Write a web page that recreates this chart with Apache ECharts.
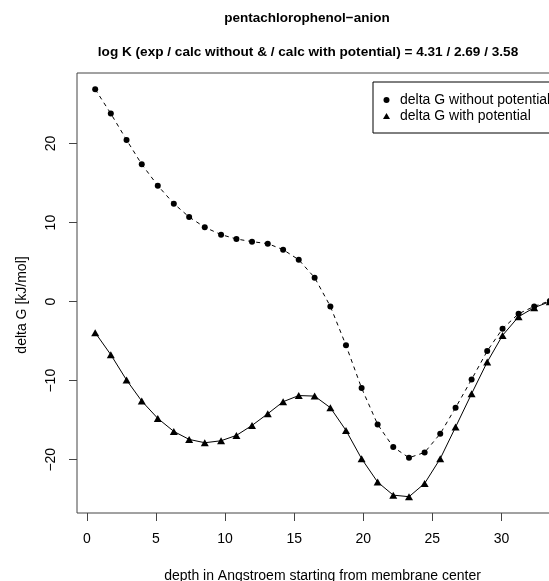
<!DOCTYPE html>
<html>
<head>
<meta charset="utf-8">
<script src="https://cdn.jsdelivr.net/npm/echarts@6/dist/echarts.min.js"></script>
<style>html,body{margin:0;padding:0;background:#fff;}#c{width:549px;height:581px;}</style>
</head>
<body>
<div id="c"></div>
<script>
var depth = [0.60, 1.73, 2.87, 3.97, 5.13, 6.29, 7.40, 8.53, 9.71, 10.82, 11.95, 13.09, 14.20, 15.33, 16.48, 17.62, 18.75, 19.88, 21.04, 22.17, 23.31, 24.44, 25.57, 26.68, 27.84, 28.97, 30.08, 31.24, 32.37, 33.50];
var dGwithout = [26.87, 23.80, 20.46, 17.38, 14.68, 12.40, 10.71, 9.41, 8.48, 7.93, 7.59, 7.34, 6.58, 5.30, 3.04, -0.60, -5.53, -10.94, -15.53, -18.40, -19.75, -19.08, -16.71, -13.42, -9.84, -6.25, -3.42, -1.53, -0.60, 0.10];
var dGwith = [-3.92, -6.71, -9.92, -12.58, -14.77, -16.42, -17.43, -17.85, -17.60, -16.92, -15.66, -14.18, -12.66, -11.88, -11.95, -13.42, -16.29, -19.87, -22.83, -24.48, -24.68, -23.00, -19.87, -15.87, -11.65, -7.64, -4.27, -1.90, -0.76, 0.00];
var xTicks = [0, 5, 10, 15, 20, 25, 30];
var yTicks = [-20, -10, 0, 10, 20];
var seriesNames = ['delta G without potential', 'delta G with potential'];
var titleMain = 'pentachlorophenol\u2212anion';
var titleSub = 'log K (exp / calc without & / calc with potential) = 4.31 / 2.69 / 3.58';
var xName = 'depth in Angstroem starting from membrane center';
var yName = 'delta G [kJ/mol]';

function pairs(xs, ys) { return xs.map(function (x, i) { return [x, ys[i]]; }); }
function fmt(v) { return String(v).replace('-', '\u2212'); }

var FONT = 'Liberation Sans, Arial, Helvetica, sans-serif';
var chart = echarts.init(document.getElementById('c'), null, { renderer: 'canvas' });
chart.setOption({
  animation: false,
  backgroundColor: '#fff',
  textStyle: { fontFamily: FONT, color: '#000' },
  grid: { left: 77, top: 73, width: 491, height: 440, show: true, borderColor: '#444', borderWidth: 1, containLabel: false, outerBoundsMode: 'none' },
  graphic: [
    { type: 'text', x: 307, y: 18, style: { text: titleMain, font: 'bold 13.5px ' + FONT, fill: '#000', textAlign: 'center', textVerticalAlign: 'middle' } },
    { type: 'text', x: 308, y: 52, style: { text: titleSub, font: 'bold 13.6px ' + FONT, fill: '#000', textAlign: 'center', textVerticalAlign: 'middle' } },
    { type: 'text', x: 22, y: 305, rotation: Math.PI / 2, style: { text: yName, font: '14px ' + FONT, fill: '#000', textAlign: 'center', textVerticalAlign: 'middle' } }
  ],
  xAxis: {
    type: 'value', min: -0.716, max: 34.816,
    name: xName, nameLocation: 'middle', nameGap: 56,
    nameTextStyle: { fontSize: 14, color: '#000', fontFamily: FONT },
    axisLine: { show: false, onZero: false },
    axisTick: { show: true, length: 8, inside: false, customValues: xTicks, lineStyle: { color: '#444' } },
    axisLabel: { show: true, fontSize: 14, color: '#000', margin: 19, customValues: xTicks, formatter: fmt },
    splitLine: { show: false }
  },
  yAxis: {
    type: 'value', min: -26.74, max: 28.93,
    axisLine: { show: false, onZero: false },
    axisTick: { show: true, length: 8, inside: false, customValues: yTicks, lineStyle: { color: '#444' } },
    axisLabel: { show: true, fontSize: 14, color: '#000', margin: 19, rotate: 90, customValues: yTicks, formatter: fmt },
    splitLine: { show: false }
  },
  legend: {
    left: 373, top: 82, orient: 'vertical',
    backgroundColor: '#fff', borderColor: '#000', borderWidth: 1,
    padding: [10, 14, 9, 10], itemGap: 0, itemWidth: 7, itemHeight: 6,
    textStyle: { fontSize: 14, color: '#000', lineHeight: 16, padding: [0, 0, 0, 5], fontFamily: FONT },
    data: [
      { name: seriesNames[0], icon: 'circle', itemStyle: { color: '#000' } },
      { name: seriesNames[1], icon: 'triangle', itemStyle: { color: '#000' } }
    ]
  },
  series: [
    {
      name: seriesNames[0], type: 'line', data: pairs(depth, dGwithout),
      symbol: 'circle', symbolSize: 6, showAllSymbol: true,
      itemStyle: { color: '#000' },
      lineStyle: { color: '#000', width: 1, type: [4, 4] }
    },
    {
      name: seriesNames[1], type: 'line', data: pairs(depth, dGwith),
      symbol: 'triangle', symbolSize: [8, 7], showAllSymbol: true,
      itemStyle: { color: '#000' },
      lineStyle: { color: '#000', width: 1, type: 'solid' }
    }
  ]
});
</script>
</body>
</html>
